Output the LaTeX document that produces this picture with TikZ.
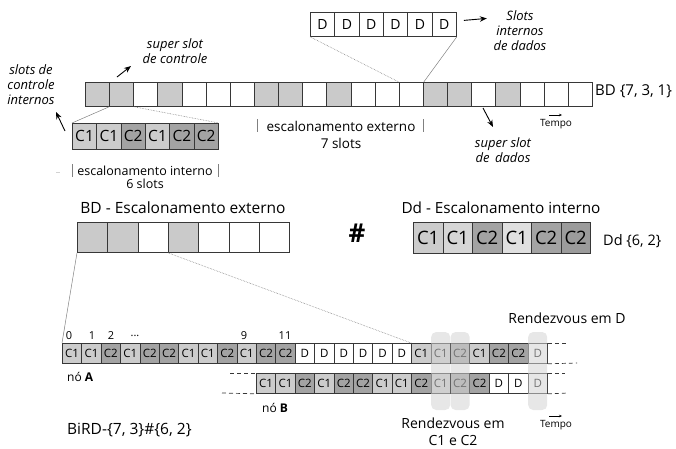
\documentclass[tikz,border=0pt]{standalone}
\usepackage{fontspec}
\setmainfont{Open Sans}
\usetikzlibrary{arrows.meta}
\definecolor{cg}{RGB}{202,202,202}
\definecolor{cone}{RGB}{204,204,204}
\definecolor{ctwo}{RGB}{163,163,163}
\definecolor{bord}{RGB}{55,55,55}
\definecolor{hl}{RGB}{211,211,211}
\newcommand{\fs}[1]{\fontsize{#1}{#1}\selectfont}
\begin{document}
\begin{tikzpicture}[x=1pt,y=-1pt,
  cellbase/.style={draw=bord, line width=0.8pt, inner sep=0pt, anchor=north west, font={\fs{12}}},
  tcell/.style={cellbase, minimum width=24.14pt, minimum height=24pt},
  dcell/.style={cellbase, minimum width=24.33pt, minimum height=24pt, font={\fs{14}}},
  icell/.style={cellbase, minimum width=24.33pt, minimum height=26pt, font={\fs{15.5}}},
  mcell/.style={cellbase, minimum width=30.3pt, minimum height=30pt},
  ddcell/.style={cellbase, minimum width=29.5pt, minimum height=31pt, font={\fs{18.5}}},
  rcell/.style={cellbase, minimum width=19.4pt, minimum height=20pt, font={\fs{11.5}}},
  proj/.style={draw=gray, line width=0.5pt},
  projdot/.style={draw=gray, line width=0.6pt, densely dotted},
  arr/.style={-{Stealth[length=7pt,width=5.5pt]}, line width=0.9pt},
  sarr/.style={-{Stealth[length=3pt,width=2.5pt]}, line width=0.5pt},
  lbl/.style={inner sep=0pt, align=center},
  ital/.style={lbl, font={\fs{13}\itshape}},
  dashln/.style={draw=bord, line width=0.7pt, dash pattern=on 4pt off 3pt},
  hlbox/.style={fill=hl, opacity=0.55, rounded corners=5pt, inner sep=0pt, minimum width=19pt, minimum height=78pt},
  barln/.style={draw=gray, line width=0.6pt}
]
\useasboundingbox (0,0) rectangle (676,448);

% ---------- top bar BD{7,3,1}
\foreach \c [count=\i] in {cg,cg,white,cg,white,white,white,cg,cg,white,cg,white,white,white,cg,cg,white,cg,white,white,white}
  \node[tcell, fill=\c] (t\i) at ({85+(\i-1)*24.14},82) {};

% ---------- D box
\foreach \i in {1,...,6}
  \node[dcell, fill=white] (d\i) at ({310+(\i-1)*24.33},12) {D};

% ---------- inner control box
\foreach \lab/\c [count=\i] in {C1/cone,C1/cone,C2/ctwo,C1/cone,C2/ctwo,C2/ctwo}
  \node[icell, fill=\c] (i\i) at ({72+(\i-1)*24.33},123) {\lab};

% projections top
\draw[proj] (t2.south west) -- (i1.north west);
\draw[projdot] (t2.south east) -- (i6.north east);
\draw[projdot] (d1.south west) -- (t14.north west);
\draw[proj] (d6.south east) -- (t14.north east);

% labels top
\node[ital] (lsci) at (31,85) {slots de\\[2pt]controle\\[2pt]internos};
\coordinate (a1s) at (65,131); \coordinate (a1e) at (56,112);
\draw[arr] (a1s) -- (a1e);
\node[ital] (lssc) at (175,51) {super slot\\[2pt]de controle};
\coordinate (a2s) at (117,77); \coordinate (a2e) at (131,66);
\draw[arr] (a2s) -- (a2e);
\node[ital] (lsid) at (520,31) {Slots\\[2pt]internos\\[2pt]de dados};
\draw[arr] (d6.east) ++(7,-4) coordinate (a3s) -- ++(23,-2) coordinate (a3e);
\node[lbl, anchor=west, font={\fs{15}}] (lbd) at (595,91) {BD \{7, 3, 1\}};
\coordinate (a4s) at (483,108); \coordinate (a4e) at (493,127);
\draw[arr] (a4s) -- (a4e);
\node[ital] (lssd) at (503,150) {super slot\\[2pt]de\, dados};
\node[lbl, font={\fs{10}}] (ltp1) at (556,124) {Tempo};
\coordinate (t1s) at (549,115); \coordinate (t1e) at (562,115);
\draw[sarr] (t1s) -- (t1e);

% escalonamento interno / externo
\coordinate (b1t) at (72,164); \coordinate (b1b) at (72,177);
\coordinate (b2t) at (218,164); \coordinate (b2b) at (218,177);
\draw[barln] (b1t) -- (b1b); \draw[barln] (b2t) -- (b2b);
\node[lbl, font={\fs{12.5}}] (lei) at (145,170.5) {escalonamento interno};
\node[lbl, font={\fs{12.5}}] (l6s) at (145,184) {6 slots};
\coordinate (fd1) at (56,172); \coordinate (fd2) at (60,172);
\draw[draw=gray!35, line width=0.8pt] (fd1) -- (fd2);
\coordinate (b3t) at (257,119); \coordinate (b3b) at (257,132);
\coordinate (b4t) at (423,119); \coordinate (b4b) at (423,132);
\draw[barln] (b3t) -- (b3b); \draw[barln] (b4t) -- (b4b);
\node[lbl, font={\fs{13.5}}] (lee) at (341,126) {escalonamento externo};
\node[lbl, font={\fs{13.5}}] (l7s) at (341,143) {7 slots};

% ---------- middle
\node[lbl, font={\fs{15.5}}] (lbde) at (183,208) {BD - Escalonamento externo};
\foreach \c [count=\i] in {cg,cg,white,cg,white,white,white}
  \node[mcell, fill=\c] (m\i) at ({77+(\i-1)*30.3},222) {};
\node[lbl, font={\fs{26}\bfseries}] (hash) at (357,233) {\#};
\node[lbl, font={\fs{15.3}}] (ldde) at (501,208) {Dd - Escalonamento interno};
\foreach \lab/\c [count=\i] in {C1/cone,C1/cone!80!white,C2/ctwo,C1/cone!60!white,C2/ctwo,C2/ctwo!95!black}
  \node[ddcell, fill=\c] (e\i) at ({413+(\i-1)*29.5},222) {\lab};
\node[lbl, anchor=west, font={\fs{14.5}}] (ldd) at (603,241) {Dd \{6, 2\}};
\node[lbl, font={\fs{14}}] (lrd) at (567,318) {Rendezvous em D};

% ---------- bottom rows
\foreach \lab/\c [count=\i] in {C1/cone,C1/cone,C2/ctwo,C1/cone,C2/ctwo,C2/ctwo,C1/cone,C1/cone,C2/ctwo,C1/cone,C2/ctwo,C2/ctwo,D/white,D/white,D/white,D/white,D/white,D/white,C1/cone,C1/cone,C2/ctwo,C1/cone,C2/ctwo,C2/ctwo,D/white}
  \node[rcell, fill=\c] (a\i) at ({62+(\i-1)*19.4},343) {\lab};
\foreach \lab/\c [count=\i] in {C1/cone,C1/cone,C2/ctwo,C1/cone,C2/ctwo,C2/ctwo,C1/cone,C1/cone,C2/ctwo,C1/cone,C2/ctwo,C2/ctwo,D/white,D/white,D/white}
  \node[rcell, fill=\c] (b\i) at ({256+(\i-1)*19.4},373) {\lab};

\draw[proj] (m1.south west) -- (a1.north west);
\draw[projdot] (m4.south west) -- (a19.north west);

% dashed continuations
\coordinate (aTR) at (567,343); \coordinate (aBR) at (577,363);
\coordinate (bTL) at (230,373); \coordinate (bBL) at (222,393);
\coordinate (bTR) at (565,373); \coordinate (bBR) at (568,393);
\draw[dashln] (a25.north east) -- (aTR);
\draw[dashln] (a25.south east) -- (aBR);
\draw[dashln] (bTL) -- (b1.north west);
\draw[dashln] (bBL) -- (b1.south west);
\draw[dashln] (b15.north east) -- (bTR);
\draw[dashln] (b15.south east) -- (bBR);

% rendezvous highlights
\node[hlbox] (h1) at (a20.center |- 0,371) {};
\node[hlbox] (h2) at (a21.center |- 0,371) {};
\node[hlbox] (h3) at (a25.center |- 0,371) {};

% slot numbers
\node[lbl, font={\fs{11}}] (n0) at (69,335.5) {0};
\node[lbl, font={\fs{11}}] (n1) at (92,335.5) {1};
\node[lbl, font={\fs{11}}] (n2) at (111,335.5) {2};
\node[lbl, font={\fs{11}}] (n3) at (135,335.5) {...};
\node[lbl, font={\fs{11}}] (n9) at (244,335.5) {9};
\node[lbl, font={\fs{11}}] (n11) at (285,335.5) {11};

\node[lbl, anchor=west, font={\fs{12}}] (lna) at (67,377) {nó \textbf{A}};
\node[lbl, anchor=west, font={\fs{12}}] (lnb) at (262,408) {nó \textbf{B}};
\node[lbl, anchor=west, font={\fs{15.5}}] (lbird) at (67,430) {BiRD-\{7, 3\}\#\{6, 2\}};
\node[lbl, font={\fs{14}}] (lrc) at (453,432) {Rendezvous em\\[3pt]C1 e C2};
\node[lbl, font={\fs{10}}] (ltp2) at (556,425) {Tempo};
\coordinate (t2s) at (549,416); \coordinate (t2e) at (562,416);
\draw[sarr] (t2s) -- (t2e);
\end{tikzpicture}
\end{document}
